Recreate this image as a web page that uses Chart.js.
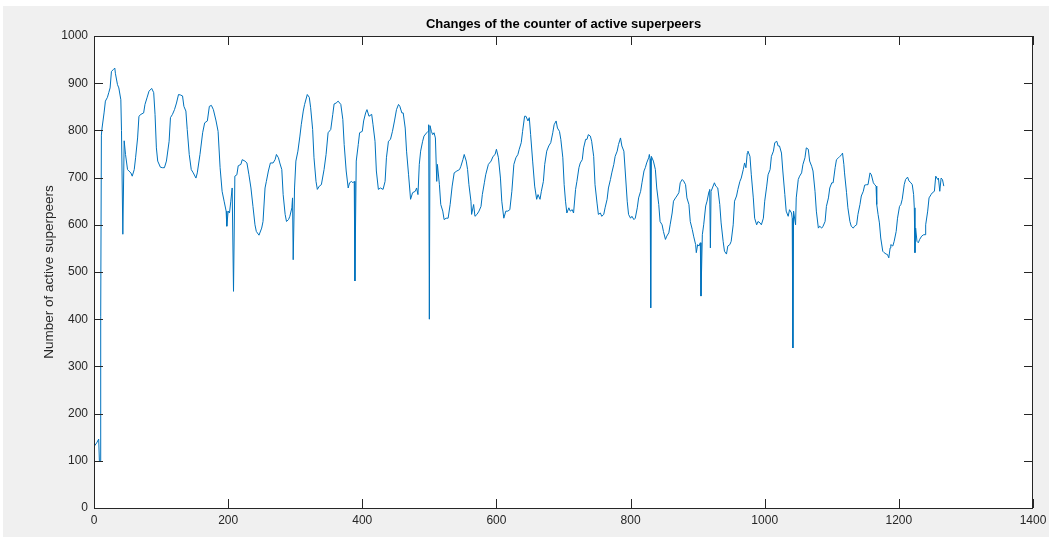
<!DOCTYPE html>
<html>
<head>
<meta charset="utf-8">
<title>Changes of the counter of active superpeers</title>
<script src="https://cdn.jsdelivr.net/npm/chart.js@4.4.1/dist/chart.umd.min.js"></script>
<style>
  html, body { margin: 0; padding: 0; background: #ffffff; }
  #chartBox { width: 1051px; height: 540px; }
</style>
</head>
<body>
<div id="chartBox"><canvas id="superpeerChart" width="1051" height="540"></canvas></div>
<script>
// time step (x) and counter value (y)
const timeSteps = [
  0, 4, 7, 8, 9, 10, 11, 12, 15, 17, 20, 22, 24, 26, 29, 31, 32, 35, 37, 40,
  41, 43, 45, 47, 50, 52, 55, 57, 60, 62, 65, 67, 70, 74, 76, 79, 82, 86, 89, 91,
  93, 95, 99, 102, 105, 108, 112, 114, 117, 120, 123, 126, 129, 132, 134, 137, 139, 142, 145, 148,
  152, 154, 158, 162, 165, 169, 172, 175, 178, 182, 185, 188, 191, 194, 197, 198, 200, 202, 204, 206,
  208, 210, 213, 215, 219, 221, 225, 228, 231, 234, 237, 240, 242, 246, 250, 252, 255, 257, 260, 263,
  267, 270, 272, 275, 277, 280, 282, 285, 287, 290, 292, 295, 296, 297, 299, 301, 304, 307, 309, 312,
  314, 318, 321, 323, 326, 328, 331, 333, 336, 339, 343, 346, 349, 353, 356, 358, 361, 364, 368, 371,
  373, 376, 379, 381, 384, 386, 388, 389, 391, 394, 396, 400, 402, 405, 407, 410, 414, 416, 419, 421,
  424, 427, 431, 434, 436, 439, 442, 445, 448, 451, 454, 456, 459, 461, 464, 466, 469, 472, 475, 479,
  481, 483, 485, 487, 490, 492, 496, 498, 499, 500, 501, 503, 505, 507, 509, 511, 512, 515, 517, 520,
  522, 525, 528, 531, 534, 537, 541, 545, 547, 550, 552, 555, 557, 559, 562, 563, 566, 568, 571, 574,
  577, 579, 582, 584, 588, 592, 595, 598, 600, 603, 606, 608, 611, 614, 617, 620, 623, 626, 629, 632,
  634, 637, 639, 642, 644, 647, 649, 651, 654, 657, 660, 662, 665, 667, 670, 672, 675, 678, 681, 684,
  686, 689, 691, 694, 696, 699, 701, 703, 705, 708, 710, 713, 715, 718, 720, 723, 725, 728, 730, 733,
  735, 737, 740, 742, 745, 747, 750, 752, 755, 757, 760, 762, 765, 767, 770, 772, 775, 777, 780, 782,
  785, 787, 790, 792, 795, 797, 800, 802, 805, 807, 810, 812, 815, 817, 820, 822, 824, 827, 828, 829,
  830, 831, 834, 837, 839, 842, 844, 847, 849, 852, 854, 857, 859, 862, 864, 867, 869, 872, 874, 877,
  879, 882, 884, 887, 889, 892, 894, 897, 898, 900, 902, 904, 905, 907, 909, 912, 914, 917, 918, 919,
  920, 922, 925, 927, 930, 933, 935, 938, 940, 943, 945, 948, 950, 953, 955, 958, 960, 963, 965, 968,
  970, 972, 974, 975, 978, 980, 983, 985, 988, 990, 993, 995, 998, 1000, 1003, 1005, 1008, 1010, 1013, 1015,
  1018, 1020, 1022, 1025, 1027, 1030, 1032, 1035, 1037, 1040, 1041, 1042, 1043, 1046, 1047, 1050, 1052, 1055, 1057, 1060,
  1062, 1065, 1067, 1070, 1072, 1075, 1077, 1080, 1082, 1085, 1087, 1090, 1092, 1095, 1097, 1100, 1102, 1105, 1107, 1110,
  1112, 1115, 1116, 1118, 1119, 1122, 1124, 1127, 1129, 1132, 1134, 1137, 1139, 1142, 1144, 1147, 1149, 1152, 1154, 1157,
  1159, 1162, 1164, 1166, 1167, 1169, 1171, 1173, 1176, 1178, 1181, 1183, 1185, 1187, 1188, 1191, 1193, 1196, 1198, 1201,
  1203, 1205, 1208, 1210, 1213, 1215, 1218, 1220, 1222, 1223, 1224, 1225, 1227, 1229, 1231, 1234, 1237, 1239, 1240, 1243,
  1245, 1248, 1250, 1253, 1255, 1258, 1259, 1261, 1263, 1265, 1267
];
const superpeerCounts = [
  130, 138, 146, 100, 100, 405, 790, 805, 837, 862, 870, 880, 890, 925, 929, 932, 920, 897, 890, 865,
  800, 580, 778, 749, 717, 714, 710, 703, 717, 742, 784, 830, 834, 837, 855, 869, 883, 889, 880, 834,
  763, 735, 722, 721, 721, 735, 777, 827, 834, 844, 858, 876, 875, 873, 851, 841, 802, 749, 717, 710,
  699, 710, 749, 795, 816, 820, 851, 853, 844, 820, 798, 721, 671, 650, 629, 597, 629, 625, 650, 678,
  459, 703, 706, 725, 728, 738, 735, 731, 706, 678, 639, 600, 586, 578, 593, 607, 678, 692, 714, 731,
  731, 738, 749, 742, 731, 717, 664, 622, 607, 611, 618, 636, 657, 526, 678, 735, 756, 788, 812, 841,
  855, 876, 870, 848, 802, 742, 692, 675, 682, 685, 717, 749, 795, 802, 834, 856, 858, 862, 855, 823,
  770, 714, 678, 689, 692, 689, 692, 481, 735, 770, 795, 798, 820, 837, 844, 830, 834, 812, 777, 714,
  675, 678, 675, 692, 742, 777, 781, 798, 820, 844, 855, 851, 837, 837, 805, 756, 706, 654, 668, 671,
  678, 664, 728, 756, 777, 788, 795, 798, 812, 400, 810, 798, 791, 795, 784, 692, 728, 685, 643, 629,
  611, 614, 614, 643, 682, 710, 714, 717, 724, 738, 749, 735, 717, 685, 650, 622, 643, 618, 622, 629,
  639, 664, 689, 706, 728, 735, 745, 749, 760, 742, 699, 650, 614, 629, 629, 632, 671, 728, 742, 749,
  760, 774, 798, 830, 830, 820, 827, 791, 735, 682, 654, 664, 654, 671, 692, 728, 756, 767, 774, 795,
  812, 820, 805, 798, 781, 742, 685, 650, 625, 636, 629, 632, 625, 675, 692, 721, 731, 738, 763, 781,
  781, 791, 788, 777, 745, 685, 646, 622, 625, 618, 622, 636, 654, 678, 696, 710, 728, 745, 756, 770,
  784, 767, 756, 714, 650, 622, 614, 618, 611, 614, 636, 657, 671, 689, 714, 721, 731, 742, 749, 740,
  424, 745, 735, 717, 678, 643, 607, 600, 586, 569, 576, 583, 600, 625, 650, 657, 661, 668, 689, 696,
  693, 685, 657, 643, 607, 590, 576, 558, 541, 558, 555, 562, 449, 579, 600, 640, 650, 671, 675, 551,
  671, 678, 689, 682, 678, 643, 604, 565, 544, 538, 555, 558, 565, 600, 650, 661, 675, 692, 699, 717,
  731, 721, 752, 756, 745, 706, 657, 614, 600, 607, 604, 600, 614, 650, 682, 706, 717, 745, 756, 774,
  777, 767, 767, 752, 714, 664, 629, 618, 632, 625, 614, 339, 629, 600, 657, 696, 703, 710, 728, 742,
  763, 760, 735, 724, 714, 671, 629, 593, 597, 593, 597, 607, 639, 657, 678, 689, 689, 721, 738, 742,
  745, 749, 752, 728, 710, 668, 636, 607, 597, 593, 597, 600, 622, 643, 661, 671, 684, 685, 685, 710,
  706, 689, 685, 682, 643, 622, 604, 572, 544, 541, 538, 537, 530, 551, 558, 555, 565, 586, 614, 639,
  643, 654, 685, 696, 701, 693, 689, 685, 664, 636, 541, 593, 565, 562, 569, 576, 579, 579, 600, 629,
  657, 664, 668, 671, 703, 696, 699, 671, 699, 696, 682
];
const xTickValues = [0, 200, 400, 600, 800, 1000, 1200, 1400];
const yTickValues = [0, 100, 200, 300, 400, 500, 600, 700, 800, 900, 1000];

const chartTitle = 'Changes of the counter of active superpeers';
const yAxisTitle = 'Number of active superpeers';

const fontFamily = "'Liberation Sans', Arial, Helvetica, sans-serif";
const axisColor = '#262626';

// MATLAB-like figure: gray frame, white axes, box with inward ticks on all sides
const matlabFrame = {
  id: 'matlabFrame',
  beforeDraw(chart) {
    const { ctx, chartArea: a, width, height } = chart;
    ctx.save();
    ctx.fillStyle = '#ffffff';
    ctx.fillRect(0, 0, width, height);
    ctx.fillStyle = '#f0f0f0';
    ctx.fillRect(3, 6, width - 5, height - 9);
    ctx.fillStyle = '#ffffff';
    ctx.fillRect(a.left, a.top, a.right - a.left, a.bottom - a.top);
    ctx.restore();
  },
  afterDraw(chart) {
    const { ctx, chartArea: a, scales: { x, y } } = chart;
    const len = 9;
    ctx.save();
    ctx.strokeStyle = axisColor;
    ctx.lineWidth = 1;
    ctx.beginPath();
    xTickValues.forEach(v => {
      const px = Math.round(x.getPixelForValue(v)) + 0.5;
      ctx.moveTo(px, a.bottom);
      ctx.lineTo(px, a.bottom - len);
      ctx.moveTo(px, a.top);
      ctx.lineTo(px, a.top + len);
    });
    yTickValues.forEach(v => {
      const py = Math.round(y.getPixelForValue(v)) + 0.5;
      ctx.moveTo(a.left, py);
      ctx.lineTo(a.left + len, py);
      ctx.moveTo(a.right, py);
      ctx.lineTo(a.right - len, py);
    });
    ctx.stroke();
    ctx.strokeRect(a.left + 0.5, a.top + 0.5, a.right - a.left - 1, a.bottom - a.top);
    ctx.restore();
  }
};

const ctx = document.getElementById('superpeerChart').getContext('2d');
new Chart(ctx, {
  type: 'line',
  data: {
    datasets: [{
      label: yAxisTitle,
      data: timeSteps.map((t, i) => ({ x: t, y: superpeerCounts[i] })),
      borderColor: '#0072BD',
      borderWidth: 1,
      pointRadius: 0,
      fill: false,
      tension: 0
    }]
  },
  options: {
    responsive: false,
    animation: false,
    devicePixelRatio: 1,
    layout: { padding: { left: 3, top: 2.4, right: 18, bottom: 0 } },
    plugins: {
      legend: { display: false },
      tooltip: { enabled: false },
      title: {
        display: true,
        text: chartTitle,
        fullSize: false,
        color: '#000000',
        font: { family: fontFamily, size: 13, weight: 'bold' },
        padding: { top: 14, bottom: 4 }
      }
    },
    scales: {
      x: {
        type: 'linear',
        min: 0,
        max: 1400,
        afterBuildTicks: scale => { scale.ticks = xTickValues.map(v => ({ value: v })); },
        afterFit: scale => {
          scale.height = 32;
          scale.paddingLeft = 0;
          scale.paddingRight = 0;
        },
        grid: { display: false, drawTicks: false },
        border: { display: false },
        ticks: {
          color: axisColor,
          padding: 5,
          maxRotation: 0,
          font: { family: fontFamily, size: 12 },
          callback: v => String(v)
        }
      },
      y: {
        min: 0,
        max: 1000,
        afterBuildTicks: scale => { scale.ticks = yTickValues.map(v => ({ value: v })); },
        afterFit: scale => {
          scale.width = 91;
          scale.paddingTop = 0;
          scale.paddingBottom = 0;
        },
        grid: { display: false, drawTicks: false },
        border: { display: false },
        ticks: {
          color: axisColor,
          padding: 6,
          font: { family: fontFamily, size: 12 },
          callback: v => String(v)
        },
        title: {
          display: true,
          text: yAxisTitle,
          color: axisColor,
          font: { family: fontFamily, size: 13.5 },
          padding: { top: 38 }
        }
      }
    }
  },
  plugins: [matlabFrame]
});
</script>
</body>
</html>
